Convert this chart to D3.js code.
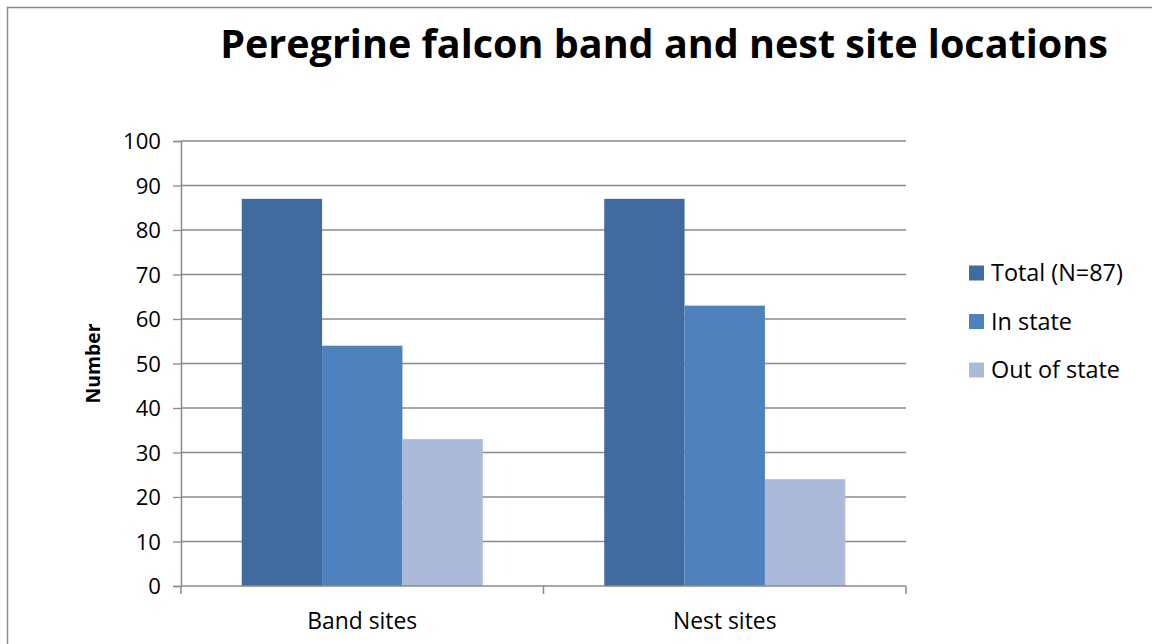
<!DOCTYPE html>
<meta charset="utf-8">
<script src="https://d3js.org/d3.v7.min.js"></script>
<style>
  body { margin: 0; background: #fff; }
  text { font-family: "Open Sans", sans-serif; fill: #000; }
</style>
<svg id="chart" width="1152" height="644"></svg>
<script>
// data
var categories = ["Band sites", "Nest sites"];
var seriesNames = ["Total (N=87)", "In state", "Out of state"];
var totalValues = [87, 87];
var inStateValues = [54, 63];
var outStateValues = [33, 24];
var yTicks = [0, 10, 20, 30, 40, 50, 60, 70, 80, 90, 100];
var colors = ["#416a9e", "#4f81bd", "#aabad8"];

var seriesValues = [totalValues, inStateValues, outStateValues];

var svg = d3.select("#chart");

// outer frame (runs off the right and bottom edges)
svg.append("rect")
    .attr("x", 7.5).attr("y", 7.5)
    .attr("width", 1160).attr("height", 660)
    .attr("fill", "none")
    .attr("stroke", "#8c8c8c")
    .attr("stroke-width", 1.5);

var plotLeft = 181, plotRight = 906, plotTop = 141, plotBottom = 586;

var x0 = d3.scaleBand().domain(categories).range([plotLeft, plotRight])
    .paddingInner(0.335).paddingOuter(0.1675);
var x1 = d3.scaleBand().domain(seriesNames).range([0, x0.bandwidth()]);
var y = d3.scaleLinear().domain([0, 100]).range([plotBottom, plotTop]);

// font size that makes a text node a given width
function fitSize(sel, width) {
  var w = sel.node().getComputedTextLength();
  var fs = parseFloat(sel.attr("font-size"));
  return fs * width / w;
}

// gridlines
svg.append("g").selectAll("line")
    .data(yTicks.filter(function(d) { return d > 0; }))
    .enter().append("line")
    .attr("x1", plotLeft).attr("x2", plotRight)
    .attr("y1", function(d) { return y(d); })
    .attr("y2", function(d) { return y(d); })
    .attr("stroke", "#8a8a8a")
    .attr("stroke-width", 1.3);

// bars
var groups = svg.append("g").selectAll("g")
    .data(categories)
    .enter().append("g")
    .attr("transform", function(d) { return "translate(" + x0(d) + ",0)"; });

groups.selectAll("rect")
    .data(function(d, i) {
      return seriesNames.map(function(s, j) { return { s: s, v: seriesValues[j][i], j: j }; });
    })
    .enter().append("rect")
    .attr("x", function(d) { return x1(d.s); })
    .attr("width", x1.bandwidth())
    .attr("y", function(d) { return y(d.v); })
    .attr("height", function(d) { return plotBottom - y(d.v); })
    .attr("fill", function(d) { return colors[d.j]; });

// y axis
var yAxis = svg.append("g")
    .attr("transform", "translate(" + plotLeft + ",0)")
    .call(d3.axisLeft(y).tickValues(yTicks).tickSize(8).tickPadding(12));
yAxis.select(".domain").attr("stroke", "#8a8a8a").attr("stroke-width", 1.5);
yAxis.selectAll(".tick line").attr("stroke", "#8a8a8a").attr("stroke-width", 1.3);
yAxis.selectAll(".tick text")
    .attr("font-size", 22).attr("font-family", "Open Sans").attr("fill", "#000")
    .attr("dy", "0.36em");
var tickSize = fitSize(yAxis.selectAll(".tick text").filter(function(d) { return d === 100; }), 38);
yAxis.selectAll(".tick text").attr("font-size", tickSize);

// x axis baseline and category boundary ticks
svg.append("line")
    .attr("x1", plotLeft).attr("x2", plotRight)
    .attr("y1", plotBottom).attr("y2", plotBottom)
    .attr("stroke", "#8a8a8a").attr("stroke-width", 1.5);
var bounds = [plotLeft, (plotLeft + plotRight) / 2, plotRight];
svg.append("g").selectAll("line")
    .data(bounds)
    .enter().append("line")
    .attr("x1", function(d) { return d; }).attr("x2", function(d) { return d; })
    .attr("y1", plotBottom).attr("y2", plotBottom + 8)
    .attr("stroke", "#8a8a8a").attr("stroke-width", 1.5);

var catText = svg.append("g").selectAll("text")
    .data(categories)
    .enter().append("text")
    .attr("x", function(d) { return x0(d) + x0.bandwidth() / 2; })
    .attr("y", 629)
    .attr("text-anchor", "middle")
    .attr("font-size", 22)
    .text(function(d) { return d; });
catText.attr("font-size", fitSize(catText.filter(function(d, i) { return i === 0; }), 110));

// y axis title
var yt = svg.append("text")
    .attr("transform", "translate(100," + ((plotTop + plotBottom) / 2) + ") rotate(-90)")
    .attr("text-anchor", "middle")
    .attr("font-weight", "bold")
    .attr("font-size", 20)
    .text("Number");
yt.attr("font-size", fitSize(yt, 80));

// title
var title = svg.append("text")
    .attr("x", 664).attr("y", 58)
    .attr("text-anchor", "middle")
    .attr("font-weight", "bold")
    .attr("font-size", 40)
    .text("Peregrine falcon band and nest site locations");
title.attr("font-size", fitSize(title, 888));

// legend
var legend = svg.append("g").selectAll("g")
    .data(seriesNames)
    .enter().append("g")
    .attr("transform", function(d, i) { return "translate(969," + (273 + i * 48.5) + ")"; });
legend.append("rect")
    .attr("x", 0).attr("y", -7.5)
    .attr("width", 15).attr("height", 15)
    .attr("fill", function(d, i) { return colors[i]; });
var legText = legend.append("text")
    .attr("x", 22).attr("y", 0).attr("dy", "0.36em")
    .attr("font-size", 22)
    .text(function(d) { return d; });
legText.attr("font-size", fitSize(legText.filter(function(d, i) { return i === 0; }), 132));
</script>
